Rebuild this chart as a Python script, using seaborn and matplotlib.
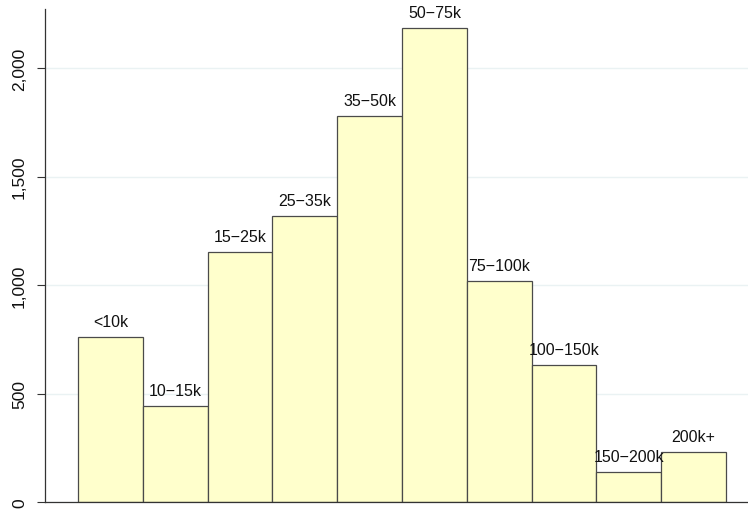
import matplotlib
matplotlib.use("Agg")
import matplotlib.pyplot as plt
import seaborn as sns
import pandas as pd
from matplotlib.ticker import FuncFormatter

categories = ["<10k", "10\u221215k", "15\u221225k", "25\u221235k", "35\u221250k",
              "50\u221275k", "75\u2212100k", "100\u2212150k", "150\u2212200k", "200k+"]
counts = [760, 443, 1153, 1316, 1780, 2185, 1019, 632, 138, 231]
y_ticks = [0, 500, 1000, 1500, 2000]

df = pd.DataFrame({"income": categories, "count": counts})

sns.set_style("white")
plt.rcParams['font.family'] = ['Liberation Sans', 'DejaVu Sans']

fig = plt.figure(figsize=(7.48, 5.10), dpi=100)
ax = fig.add_axes([45/748, 7/510, 1 - 45/748, 493/510])

sns.barplot(data=df, x="income", y="count", order=categories, width=1.0,
            color="#FFFFCC", saturation=1, edgecolor="#4a4a4a", linewidth=0.9,
            ax=ax, zorder=2)

for i, (c, v) in enumerate(zip(categories, counts)):
    ax.text(i, v + 38, c, ha="center", va="bottom", fontsize=11.5, color="#111111", zorder=3)

ax.set_xlim(-1.01, 9.84)
ax.set_ylim(0, 2272)
ax.set_yticks(y_ticks)
ax.yaxis.set_major_formatter(FuncFormatter(lambda v, p: f"{int(v):,}"))
for lbl in ax.get_yticklabels():
    lbl.set_rotation(90)
    lbl.set_va("center")
ax.tick_params(axis="y", labelsize=12.5, length=6, width=0.8, color="#333333",
               left=True, pad=7, labelcolor="#111111")
ax.tick_params(axis="x", bottom=False, labelbottom=False)
ax.set_xlabel("")
ax.set_ylabel("")
ax.grid(axis="y", color="#EAF2F3", linewidth=1.0, zorder=0)
ax.set_axisbelow(True)
for s in ["top", "right"]:
    ax.spines[s].set_visible(False)
ax.spines["left"].set_color("#333333")
ax.spines["bottom"].set_color("#333333")
ax.spines["left"].set_linewidth(0.9)
ax.spines["bottom"].set_linewidth(0.9)

fig.savefig("out.png", dpi=100)
